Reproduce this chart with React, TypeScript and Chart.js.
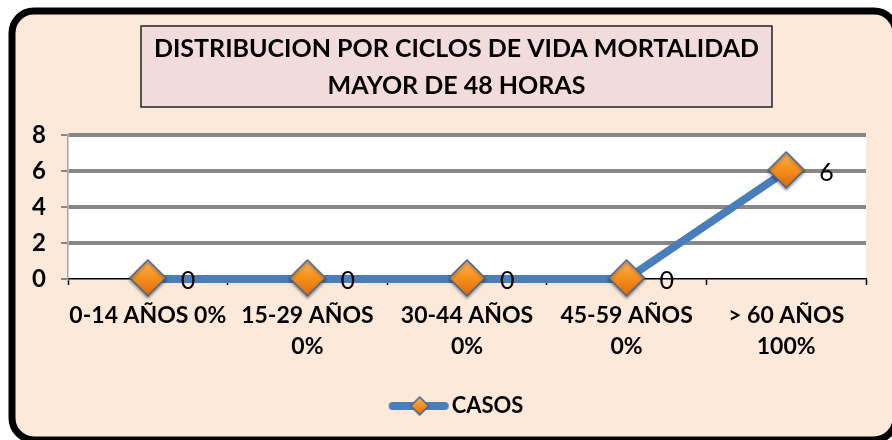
import React, { useEffect, useRef } from "react";
import { Chart, registerables } from "chart.js";

Chart.register(...registerables);

const categories: string[][] = [
  ["0-14 AÑOS 0%"],
  ["15-29 AÑOS", "0%"],
  ["30-44 AÑOS", "0%"],
  ["45-59 AÑOS", "0%"],
  ["> 60 AÑOS", "100%"],
];
const casos: number[] = [0, 0, 0, 0, 6];
const seriesName = "CASOS";
const titleLines: string[] = ["DISTRIBUCION POR CICLOS DE VIDA MORTALIDAD", "MAYOR DE 48 HORAS"];
const yMin = 0;
const yMax = 8;
const yStep = 2;

const FONT = "Lato";
const PEACH = "#FDE9D9";
const TITLE_BG = "#F2DCDB";
const LINE_BLUE = "#4A7EBB";
const ORANGE = "#F5861F";
const GRID = "#878787";

function drawDiamond(ctx: CanvasRenderingContext2D, cx: number, cy: number, r: number) {
  const g = ctx.createLinearGradient(cx, cy - r, cx, cy + r);
  g.addColorStop(0, "#FBB46A");
  g.addColorStop(0.45, "#F7931E");
  g.addColorStop(1, "#DE6A0C");
  ctx.beginPath();
  ctx.moveTo(cx, cy - r);
  ctx.lineTo(cx + r, cy);
  ctx.lineTo(cx, cy + r);
  ctx.lineTo(cx - r, cy);
  ctx.closePath();
  ctx.fillStyle = g;
  ctx.fill();
  ctx.strokeStyle = "#3C6598";
  ctx.lineWidth = 1.5;
  ctx.stroke();
}

function makePointImage(): HTMLCanvasElement {
  const c = document.createElement("canvas");
  c.width = 42;
  c.height = 42;
  const ctx = c.getContext("2d")!;
  ctx.save();
  ctx.shadowColor = "rgba(0,0,0,0.35)";
  ctx.shadowBlur = 3;
  ctx.shadowOffsetY = 2;
  drawDiamond(ctx, 21, 20, 18);
  ctx.restore();
  return c;
}

function makeLegendImage(): HTMLCanvasElement {
  const c = document.createElement("canvas");
  c.width = 94;
  c.height = 22;
  const ctx = c.getContext("2d")!;
  ctx.strokeStyle = LINE_BLUE;
  ctx.lineWidth = 8;
  ctx.lineCap = "round";
  ctx.beginPath();
  ctx.moveTo(37, 11);
  ctx.lineTo(89, 11);
  ctx.stroke();
  drawDiamond(ctx, 64, 11, 9);
  return c;
}

const backgroundPlugin = {
  id: "bgFrame",
  beforeDraw(chart: any) {
    const { ctx, chartArea } = chart;
    ctx.save();
    ctx.beginPath();
    (ctx as any).roundRect(12, 11, 884, 429, 22);
    ctx.fillStyle = PEACH;
    ctx.fill();
    ctx.lineWidth = 7;
    ctx.strokeStyle = "#000";
    ctx.stroke();
    ctx.fillStyle = TITLE_BG;
    ctx.fillRect(141, 26, 631, 81);
    ctx.lineWidth = 1.5;
    ctx.strokeStyle = "#222";
    ctx.strokeRect(141, 26, 631, 81);
    ctx.fillStyle = "#000";
    ctx.font = `bold 25px ${FONT}`;
    ctx.textAlign = "center";
    ctx.textBaseline = "middle";
    ctx.fillText(titleLines[0], 456.5, 49);
    ctx.fillText(titleLines[1], 456.5, 86);
    ctx.fillStyle = "#fff";
    ctx.fillRect(chartArea.left, chartArea.top, chartArea.right - chartArea.left, chartArea.bottom - chartArea.top);
    ctx.restore();
  },
};

const valueLabelPlugin = {
  id: "valueLabels",
  afterDatasetsDraw(chart: any) {
    const { ctx } = chart;
    const meta = chart.getDatasetMeta(0);
    const data = chart.data.datasets[0].data;
    ctx.save();
    ctx.font = `25px ${FONT}`;
    ctx.fillStyle = "#000";
    ctx.textAlign = "left";
    ctx.textBaseline = "middle";
    meta.data.forEach((pt: any, i: number) => {
      ctx.fillText(String(data[i]), pt.x + 33, pt.y + 2);
    });
    ctx.restore();
  },
};

export default function App() {
  const ref = useRef<HTMLCanvasElement | null>(null);
  useEffect(() => {
    if (!ref.current) return;
    const legendImg = makeLegendImage();
    const pointImg = makePointImage();
    const chart = new Chart(ref.current, {
      type: "line",
      data: {
        labels: categories,
        datasets: [
          {
            label: seriesName,
            data: casos,
            borderColor: LINE_BLUE,
            borderWidth: 8,
            pointStyle: pointImg as any,
            pointRadius: 18,
            pointHoverRadius: 18,
            pointBackgroundColor: ORANGE,
            pointBorderColor: "#3C6598",
            tension: 0,
            clip: false as any,
          },
        ],
      },
      options: {
        responsive: false,
        animation: false,
        layout: { padding: { left: 20, right: 24, top: 135, bottom: 13 } },
        plugins: {
          title: { display: false },
          legend: {
            display: true,
            position: "bottom",
            labels: {
              usePointStyle: true,
              pointStyle: legendImg as any,
              pointStyleWidth: 76,
              color: "#000",
              font: { family: FONT, size: 22, weight: "bold" },
              padding: 10,
            },
          },
          tooltip: { enabled: false },
        },
        scales: {
          x: {
            type: "category",
            offset: true,
            grid: {
              drawOnChartArea: false,
              drawTicks: true,
              tickLength: 6,
              tickColor: "#000",
              tickWidth: 1.5,
              offset: true,
            },
            border: { display: true, color: "#000", width: 1.5 },
            ticks: {
              color: "#000",
              font: { family: FONT, size: 23, weight: "bold", lineHeight: 1.35 },
              padding: 15,
              autoSkip: false,
              maxRotation: 0,
              minRotation: 0,
            },
            afterFit(scale: any) {
              scale.height = 106;
            },
          },
          y: {
            min: yMin,
            max: yMax,
            ticks: {
              stepSize: yStep,
              color: "#000",
              font: { family: FONT, size: 24, weight: "bold" },
              padding: 15,
            },
            grid: {
              color: (c: any) => (c.tick && c.tick.value === 0 ? "rgba(0,0,0,0)" : GRID),
              lineWidth: 4,
              tickLength: 7,
              tickColor: GRID,
              tickWidth: 2,
            },
            border: { display: true, color: "#A6A6A6", width: 1.5 },
            afterFit(scale: any) {
              scale.width = 48;
            },
          },
        },
      },
      plugins: [backgroundPlugin, valueLabelPlugin],
    });
    return () => chart.destroy();
  }, []);
  return (
    <div style={{ position: "absolute", left: 0, top: 0, width: 892, height: 440 }}>
      <canvas ref={ref} width={892} height={440} />
    </div>
  );
}
